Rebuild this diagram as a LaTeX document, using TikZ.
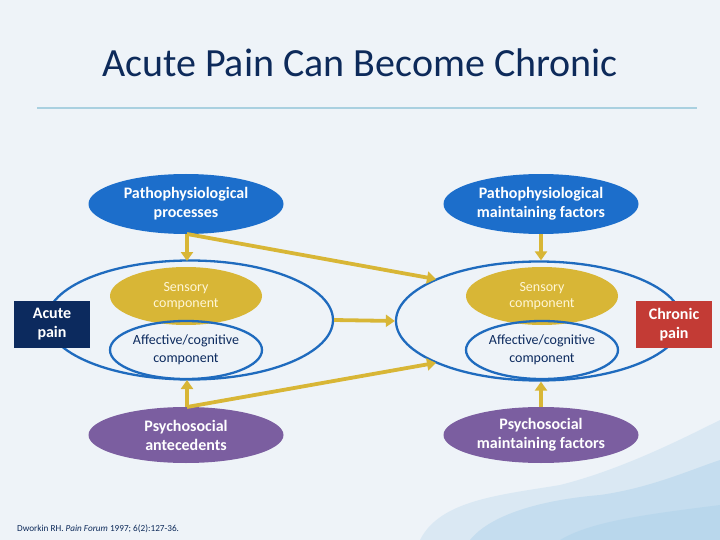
\documentclass[tikz,border=0pt]{standalone}
\usepackage{fontspec}
\setmainfont{Carlito}
\usetikzlibrary{shapes.geometric,arrows.meta}
\definecolor{bgc}{HTML}{EEF3F8}
\definecolor{titlec}{HTML}{0D2A5A}
\definecolor{rulec}{HTML}{A9D0E0}
\definecolor{bluef}{HTML}{1C6ECB}
\definecolor{blueo}{HTML}{1F6BBE}
\definecolor{goldc}{HTML}{D8B636}
\definecolor{purplec}{HTML}{7B5EA0}
\definecolor{navyc}{HTML}{0C2A5E}
\definecolor{redc}{HTML}{C33B35}
\definecolor{sensetxt}{HTML}{FFF6D6}
\definecolor{washc}{HTML}{9FCBE8}
\tikzset{
  oval/.style={ellipse, inner sep=0pt, align=center, font=\fontsize{16}{19}\selectfont\bfseries, text=white},
  patho/.style={oval, fill=bluef, minimum width=195pt, minimum height=60pt},
  psycho/.style={oval, fill=purplec, minimum width=195pt, minimum height=56pt},
  outer/.style={ellipse, draw=blueo, line width=2.3pt, minimum width=286pt, minimum height=119pt},
  sensory/.style={ellipse, inner sep=0pt, fill=goldc, text=sensetxt, align=center, font=\fontsize{14}{16.5}\selectfont, minimum width=152pt, minimum height=58pt},
  affect/.style={ellipse, inner sep=0pt, draw=blueo, line width=2.3pt, text=navyc, align=center, font=\fontsize{14}{17.5}\selectfont, minimum width=152pt, minimum height=58pt},
  painbox/.style={rectangle, inner sep=0pt, text=white, align=center, font=\fontsize{16}{19}\selectfont\bfseries, minimum width=76pt, minimum height=47pt},
  flow/.style={draw=goldc, line width=3.8pt, -{Triangle[width=12pt,length=9pt]}}
}
\begin{document}
\begin{tikzpicture}[x=1pt,y=-1pt]
\fill[bgc] (0,0) rectangle (720,540);
\useasboundingbox (0,0) rectangle (720,540);
% watercolor wash bottom right
\fill[washc, opacity=0.25] (420,540) .. controls (440,500) and (500,495) .. (560,485) .. controls (620,470) and (680,440) .. (720,420) -- (720,540) -- cycle;
\fill[washc, opacity=0.35] (470,540) .. controls (490,515) and (540,500) .. (600,495) .. controls (650,488) and (690,470) .. (720,460) -- (720,540) -- cycle;
\fill[washc, opacity=0.3] (560,540) .. controls (590,522) and (640,515) .. (720,505) -- (720,540) -- cycle;
% title
\node[text=titlec, font=\fontsize{40}{44}\selectfont, anchor=base] (title) at (360,77) {Acute Pain Can Become Chronic};
\draw[rulec, line width=1.5pt] (37,108) -- (697,108);
% left cluster
\node[outer] (bigL) at (190,320) {};
\node[sensory] (sensL) at (186,296) {Sensory\\component};
\node[affect] (affL) at (186,350) {Affective/cognitive\\component};
\node[patho] (procL) at (186,204) {Pathophysiological\\processes};
\node[psycho] (psyL) at (186,435) {Psychosocial\\antecedents};
\node[painbox, fill=navyc] (acute) at (52,324.5) {Acute\\pain};
% right cluster
\node[outer] (bigR) at (539,321) {};
\node[sensory] (sensR) at (542,296) {Sensory\\component};
\node[affect] (affR) at (542,350) {Affective/cognitive\\component};
\node[patho] (procR) at (541,204) {Pathophysiological\\maintaining factors};
\node[psycho] (psyR) at (541,435) {Psychosocial\\maintaining factors};
\node[painbox, fill=redc] (chronic) at (674,324.5) {Chronic\\pain};
% connectors
\coordinate (cTop) at (187,234);
\coordinate (cBot) at (187,407);
\draw[flow] (cTop) -- (187,261);
\draw[flow, shorten >=-1pt] (cTop) -- (bigR.158);
\draw[flow] (bigL.east) -- (bigR.west);
\draw[flow] (cBot) -- (187,380);
\draw[flow, shorten >=-1pt] (cBot) -- (bigR.202);
\draw[flow] (procR.south) -- (procR.south |- bigR.north);
\draw[flow] (psyR.north) -- (psyR.north |- bigR.south);
% citation
\node[anchor=base west, text=titlec, font=\fontsize{9.2}{11}\selectfont, inner sep=0pt] (cite) at (17,531) {Dworkin RH. \textit{Pain Forum} 1997; 6(2):127-36.};
\end{tikzpicture}
\end{document}
